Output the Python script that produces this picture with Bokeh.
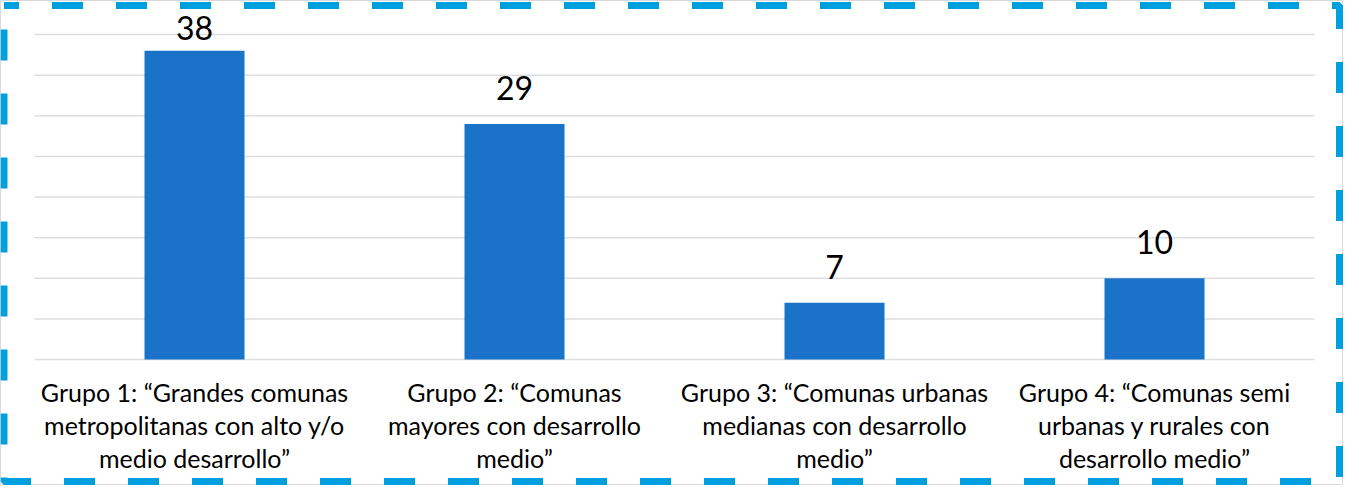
import numpy as np
from bokeh.plotting import figure
from bokeh.models import Range1d, ColumnDataSource
from bokeh.core.properties import value
from bokeh.embed import file_html
from bokeh.resources import INLINE

# ---- data ----
categories = [
    "Grupo 1: “Grandes comunas\nmetropolitanas con alto y/o\nmedio desarrollo”",
    "Grupo 2: “Comunas\nmayores con desarrollo\nmedio”",
    "Grupo 3: “Comunas urbanas\nmedianas con desarrollo\nmedio”",
    "Grupo 4: “Comunas semi\nurbanas y rurales con\ndesarrollo medio”",
]
counts = [38, 29, 7, 10]
grid_ticks = [0, 5, 10, 15, 20, 25, 30, 35, 40]

# ---- layout constants (pixels) ----
W, H = 1343, 485
LEFT_PAD, RIGHT_PAD = 34, 29          # frame edge -> first/last category edge
TOP_PAD, BOTTOM_PAD = 34, 126         # frame edge -> y=40 / y=0
n = len(categories)
cat_w = (W - LEFT_PAD - RIGHT_PAD) / n
ymax = 40
ppu = (H - TOP_PAD - BOTTOM_PAD) / ymax

xs = np.arange(n) + 0.5
x_range = Range1d(-LEFT_PAD / cat_w, n + RIGHT_PAD / cat_w)
y_range = Range1d(-BOTTOM_PAD / ppu, ymax + TOP_PAD / ppu)

p = figure(width=W, height=H, x_range=x_range, y_range=y_range,
           output_backend="svg", toolbar_location=None,
           min_border=0, min_border_left=0, min_border_right=0,
           min_border_top=0, min_border_bottom=0)
p.axis.visible = False
p.grid.visible = False
p.outline_line_color = "#d9d9d9"
p.outline_line_width = 1
p.background_fill_color = "white"
p.border_fill_color = "white"

FONT = value("Lato")

# gridlines across category extent
p.segment(x0=[0] * len(grid_ticks), x1=[n] * len(grid_ticks),
          y0=grid_ticks, y1=grid_ticks, line_color="#dedee2", line_width=1.5)

# bars
src = ColumnDataSource(dict(x=xs, top=counts))
p.vbar(x="x", top="top", width=100 / cat_w, source=src,
       fill_color="#1a73c9", line_color=None)

# value labels (clamped near top like Excel)
cnt = np.array(counts, dtype=float)
label_y = np.minimum(cnt + 36 / ppu, ymax + 7 / ppu)
p.text(x=xs, y=label_y, text=[str(c) for c in counts],
       text_font=FONT, text_font_size="32px", text_color="#000000",
       text_align="center", text_baseline="alphabetic")

# category labels (3 lines each)
lines = [c.split("\n") for c in categories]
for i, off in enumerate([32, 65, 98]):
    p.text(x=xs, y=[0] * n, text=[l[i] if i < len(l) else "" for l in lines],
           y_offset=off, text_font=FONT, text_font_size="25px",
           text_color="#000000", text_align="center",
           text_baseline="alphabetic")

# dashed border
bl = -(LEFT_PAD - 3.5) / cat_w
br = n + (W - 4 - (W - RIGHT_PAD)) / cat_w
bt = ymax + (TOP_PAD - 5) / ppu
bb = -(BOTTOM_PAD - 4) / ppu
p.line(x=[bl, br, br, bl, bl], y=[bt, bt, bb, bb, bt],
       line_color="#00a0e0", line_width=7, line_dash="31 33",
       line_dash_offset=16, line_cap="butt")

open("out.html", "w").write(file_html(p, INLINE))
